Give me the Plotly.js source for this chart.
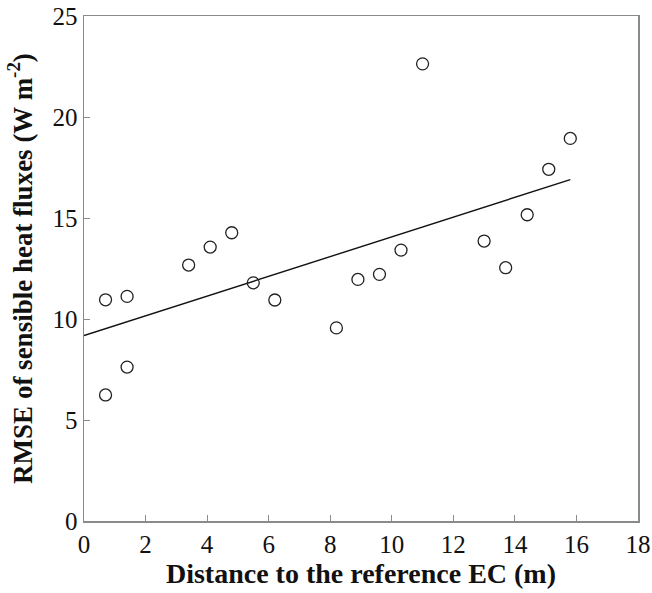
<!DOCTYPE html>
<html>
<head>
<meta charset="utf-8">
<script src="https://cdn.plot.ly/plotly-3.0.1.min.js"></script>
<style>html,body{margin:0;padding:0;background:#fff;}#chart{width:652px;height:593px;}</style>
</head>
<body>
<div id="chart"></div>
<script>
// Distance to the reference EC (m)
const distance = [0.7, 0.7, 1.4, 1.4, 3.4, 4.1, 4.8, 5.5, 6.2, 8.2, 8.9, 9.6, 10.3, 11.0, 13.0, 13.7, 14.4, 15.1, 15.8];
// RMSE of sensible heat fluxes (W m-2)
const rmse = [10.95, 6.24, 11.12, 7.62, 12.67, 13.56, 14.27, 11.79, 10.94, 9.56, 11.96, 12.21, 13.41, 22.63, 13.86, 12.54, 15.16, 17.41, 18.94];
// Fitted trend line endpoints
const fitX = [0, 15.8];
const fitY = [9.18, 16.9];
const xTicks = [0, 2, 4, 6, 8, 10, 12, 14, 16, 18];
const yTicks = [0, 5, 10, 15, 20, 25];

const serif = "Liberation Serif, Times New Roman, serif";
const data = [
  {x: fitX, y: fitY, type: 'scatter', mode: 'lines', line: {color: '#111', width: 1.4}, hoverinfo: 'skip', cliponaxis: false},
  {x: distance, y: rmse, type: 'scatter', mode: 'markers', cliponaxis: false,
   marker: {symbol: 'circle-open', size: 12, color: '#222', line: {width: 1.3, color: '#222'}}}
];
const axisCommon = {
  showgrid: false, zeroline: false, showline: true, mirror: true,
  linecolor: '#8a8a8a', linewidth: 1.5,
  ticks: 'inside', ticklen: 6, tickwidth: 1, tickcolor: '#8a8a8a',
  tickfont: {family: serif, size: 25, color: '#111'}
};
const layout = {
  width: 652, height: 593,
  margin: {l: 84, r: 14, t: 16, b: 72},
  paper_bgcolor: '#fff', plot_bgcolor: '#fff',
  showlegend: false,
  xaxis: Object.assign({}, axisCommon, {
    range: [0, 18], tickvals: xTicks, ticktext: xTicks.map(String),
    title: {text: '<b>Distance to the reference EC (m)</b>', font: {family: serif, size: 28, color: '#111'}, standoff: 7}
  }),
  yaxis: Object.assign({}, axisCommon, {
    range: [0, 25], tickvals: yTicks, ticktext: yTicks.map(String),
    title: {text: '<b>RMSE of sensible heat fluxes (W m<sup>-2</sup>)</b>', font: {family: serif, size: 27, color: '#111'}, standoff: 12}
  })
};
Plotly.newPlot('chart', data, layout, {displayModeBar: false, staticPlot: true});
</script>
</body>
</html>
